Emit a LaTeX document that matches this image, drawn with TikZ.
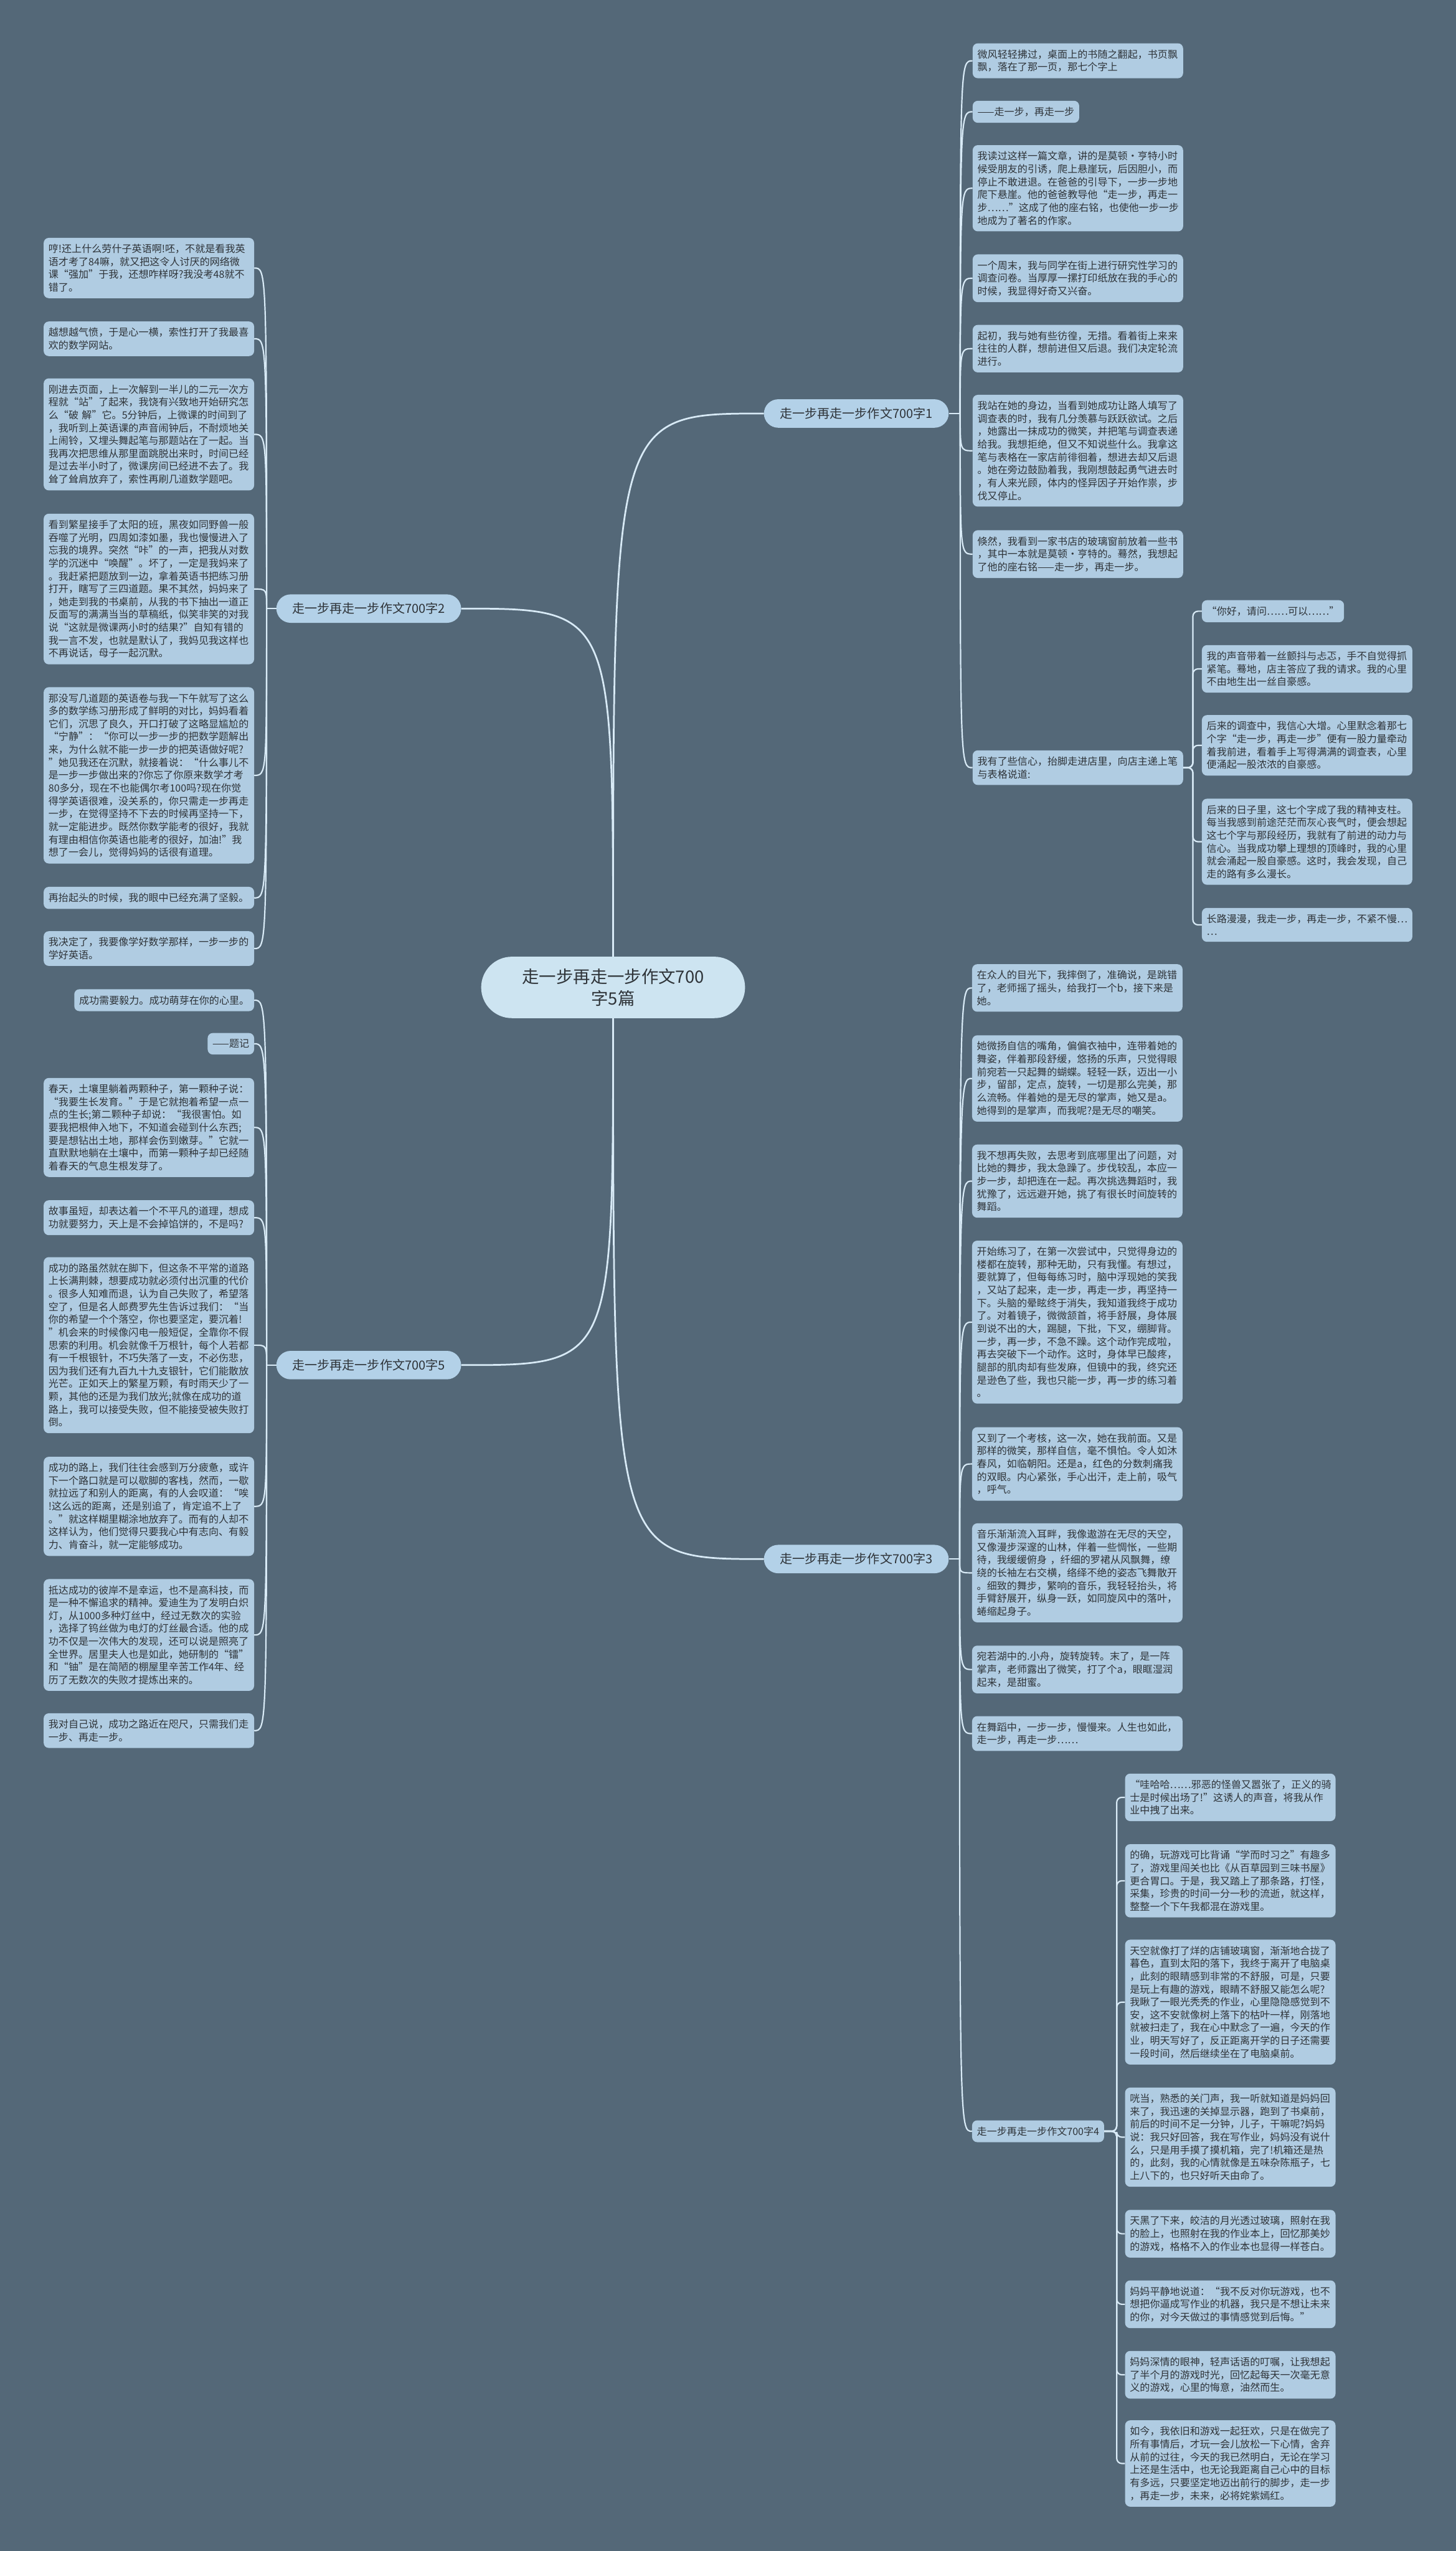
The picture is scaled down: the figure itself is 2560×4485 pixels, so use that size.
\documentclass[tikz,border=0pt]{standalone}
\usepackage{fontspec}
\newfontfamily\cjk{Noto Sans CJK SC}
\usepackage{tikz}
\definecolor{mapbg}{HTML}{546878}
\definecolor{leafblue}{HTML}{B0CCE2}
\definecolor{hubblue}{HTML}{B3D1E8}
\definecolor{rootblue}{HTML}{CDE4F1}
\definecolor{linkwhite}{HTML}{D8EAF6}
\definecolor{inkgrey}{HTML}{2E3338}
\newcommand\leaffont{\cjk\fontsize{17.6}{22.6}\selectfont}
\newcommand\hubfont{\cjk\fontsize{22}{26}\selectfont}
\newcommand\rootfont{\cjk\fontsize{30}{39}\selectfont}

\begin{document}
\begin{tikzpicture}[x=1pt, y=-1pt,
  leaf/.style={fill=leafblue, rounded corners=9pt, inner xsep=8.5pt, inner ysep=11pt,
    text=inkgrey, font=\leaffont, align=left},
  para/.style={leaf, text width=353pt},
  hub/.style={fill=hubblue, rounded corners=25pt, minimum height=50pt, inner xsep=28pt,
    text=inkgrey, font=\hubfont},
  root/.style={fill=rootblue, rounded corners=54pt, minimum width=464pt, minimum height=108pt,
    text=inkgrey, align=center, font=\rootfont},
  trunk/.style={draw=linkwhite, line width=3pt},
  twig/.style={draw=linkwhite, line width=2.4pt},
  elbow/.style={twig, rounded corners=9pt}]
\useasboundingbox (0,0) rectangle (2560,4485);
\fill[mapbg] (0,0) rectangle (2560,4485);

\node[root] (root) at (1078,1736) {走一步再走一步作文700\\字5篇};
\node[hub, anchor=west] (b1) at (1343,727) {走一步再走一步作文700字1};
\node[hub, anchor=east] (b2) at (811,1070) {走一步再走一步作文700字2};
\node[hub, anchor=west] (b3) at (1343,2741) {走一步再走一步作文700字3};
\node[hub, anchor=east] (b5) at (811,2400) {走一步再走一步作文700字5};

% essay 1
\node[para, anchor=north west] (l1a) at (1710,76) {微风轻轻拂过，桌面上的书随之翻起，书页飘\\飘，落在了那一页，那七个字上};
\node[leaf, anchor=north west] (l1b) at (1710,177) {——走一步，再走一步};
\node[para, anchor=north west] (l1c) at (1710,255) {我读过这样一篇文章，讲的是莫顿·亨特小时\\候受朋友的引诱，爬上悬崖玩，后因胆小，而\\停止不敢进退。在爸爸的引导下，一步一步地\\爬下悬崖。他的爸爸教导他“走一步，再走一\\步……”这成了他的座右铭，也使他一步一步\\地成为了著名的作家。};
\node[para, anchor=north west] (l1d) at (1710,447) {一个周末，我与同学在街上进行研究性学习的\\调查问卷。当厚厚一摞打印纸放在我的手心的\\时候，我显得好奇又兴奋。};
\node[para, anchor=north west] (l1e) at (1710,571) {起初，我与她有些彷徨，无措。看着街上来来\\往往的人群，想前进但又后退。我们决定轮流\\进行。};
\node[para, anchor=north west] (l1f) at (1710,694) {我站在她的身边，当看到她成功让路人填写了\\调查表的时，我有几分羡慕与跃跃欲试。之后\\，她露出一抹成功的微笑，并把笔与调查表递\\给我。我想拒绝，但又不知说些什么。我拿这\\笔与表格在一家店前徘徊着，想进去却又后退\\。她在旁边鼓励着我，我刚想鼓起勇气进去时\\，有人来光顾，体内的怪异因子开始作祟，步\\伐又停止。};
\node[para, anchor=north west] (l1g) at (1710,932) {倏然，我看到一家书店的玻璃窗前放着一些书\\，其中一本就是莫顿·亨特的。蓦然，我想起\\了他的座右铭——走一步，再走一步。};
\node[para, anchor=north west] (l1h) at (1710,1319) {我有了些信心，抬脚走进店里，向店主递上笔\\与表格说道:};
\node[leaf, anchor=north west] (s1) at (2113,1055) {“你好，请问……可以……”};
\node[para, anchor=north west] (s2) at (2113,1134) {我的声音带着一丝颤抖与忐忑，手不自觉得抓\\紧笔。蓦地，店主答应了我的请求。我的心里\\不由地生出一丝自豪感。};
\node[para, anchor=north west] (s3) at (2113,1257) {后来的调查中，我信心大增。心里默念着那七\\个字“走一步，再走一步”便有一股力量牵动\\着我前进，看着手上写得满满的调查表，心里\\便涌起一股浓浓的自豪感。};
\node[para, anchor=north west] (s4) at (2113,1404) {后来的日子里，这七个字成了我的精神支柱。\\每当我感到前途茫茫而灰心丧气时，便会想起\\这七个字与那段经历，我就有了前进的动力与\\信心。当我成功攀上理想的顶峰时，我的心里\\就会涌起一股自豪感。这时，我会发现，自己\\走的路有多么漫长。};
\node[para, anchor=north west] (s5) at (2113,1596) {长路漫漫，我走一步，再走一步，不紧不慢…\\…};

% essay 2
\node[para, anchor=north east] (l2a) at (447,418) {哼!还上什么劳什子英语啊!呸，不就是看我英\\语才考了84嘛，就又把这令人讨厌的网络微\\课“强加”于我，还想咋样呀?我没考48就不\\错了。};
\node[para, anchor=north east] (l2b) at (447,565) {越想越气愤，于是心一横，索性打开了我最喜\\欢的数学网站。};
\node[para, anchor=north east] (l2c) at (447,665) {刚进去页面，上一次解到一半儿的二元一次方\\程就“站”了起来，我饶有兴致地开始研究怎\\么“破 解”它。5分钟后，上微课的时间到了\\，我听到上英语课的声音闹钟后，不耐烦地关\\上闹铃，又埋头舞起笔与那题站在了一起。当\\我再次把思维从那里面跳脱出来时，时间已经\\是过去半小时了，微课房间已经进不去了。我\\耸了耸肩放弃了，索性再刷几道数学题吧。};
\node[para, anchor=north east] (l2d) at (447,903) {看到繁星接手了太阳的班，黑夜如同野兽一般\\吞噬了光明，四周如漆如墨，我也慢慢进入了\\忘我的境界。突然“咔”的一声，把我从对数\\学的沉迷中“唤醒”。坏了，一定是我妈来了\\。我赶紧把题放到一边，拿着英语书把练习册\\打开，瞎写了三四道题。果不其然，妈妈来了\\，她走到我的书桌前，从我的书下抽出一道正\\反面写的满满当当的草稿纸，似笑非笑的对我\\说“这就是微课两小时的结果?”自知有错的\\我一言不发，也就是默认了，我妈见我这样也\\不再说话，母子一起沉默。};
\node[para, anchor=north east] (l2e) at (447,1208) {那没写几道题的英语卷与我一下午就写了这么\\多的数学练习册形成了鲜明的对比，妈妈看着\\它们，沉思了良久，开口打破了这略显尴尬的\\“宁静”：“你可以一步一步的把数学题解出\\来，为什么就不能一步一步的把英语做好呢?\\”她见我还在沉默，就接着说：“什么事儿不\\是一步一步做出来的?你忘了你原来数学才考\\80多分，现在不也能偶尔考100吗?现在你觉\\得学英语很难，没关系的，你只需走一步再走\\一步，在觉得坚持不下去的时候再坚持一下，\\就一定能进步。既然你数学能考的很好，我就\\有理由相信你英语也能考的很好，加油!”我\\想了一会儿，觉得妈妈的话很有道理。};
\node[para, anchor=north east] (l2f) at (447,1559) {再抬起头的时候，我的眼中已经充满了坚毅。};
\node[para, anchor=north east] (l2g) at (447,1637) {我决定了，我要像学好数学那样，一步一步的\\学好英语。};

% essay 5
\node[leaf, anchor=north east] (l5a) at (447,1739) {成功需要毅力。成功萌芽在你的心里。};
\node[leaf, anchor=north east] (l5b) at (447,1816) {——题记};
\node[para, anchor=north east] (l5c) at (447,1895) {春天，土壤里躺着两颗种子，第一颗种子说：\\“我要生长发育。”于是它就抱着希望一点一\\点的生长;第二颗种子却说：“我很害怕。如\\要我把根伸入地下，不知道会碰到什么东西;\\要是想钻出土地，那样会伤到嫩芽。”它就一\\直默默地躺在土壤中，而第一颗种子却已经随\\着春天的气息生根发芽了。};
\node[para, anchor=north east] (l5d) at (447,2110) {故事虽短，却表达着一个不平凡的道理，想成\\功就要努力，天上是不会掉馅饼的，不是吗?};
\node[para, anchor=north east] (l5e) at (447,2210) {成功的路虽然就在脚下，但这条不平常的道路\\上长满荆棘，想要成功就必须付出沉重的代价\\。很多人知难而退，认为自己失败了，希望落\\空了，但是名人郎费罗先生告诉过我们：“当\\你的希望一个个落空，你也要坚定，要沉着!\\”机会来的时候像闪电一般短促，全靠你不假\\思索的利用。机会就像千万根针，每个人若都\\有一千根银针，不巧失落了一支，不必伤悲，\\因为我们还有九百九十九支银针，它们能散放\\光芒。正如天上的繁星万颗，有时雨天少了一\\颗，其他的还是为我们放光;就像在成功的道\\路上，我可以接受失败，但不能接受被失败打\\倒。};
\node[para, anchor=north east] (l5f) at (447,2561) {成功的路上，我们往往会感到万分疲惫，或许\\下一个路口就是可以歇脚的客栈，然而，一歇\\就拉远了和别人的距离，有的人会叹道：“唉\\!这么远的距离，还是别追了，肯定追不上了\\。”就这样糊里糊涂地放弃了。而有的人却不\\这样认为，他们觉得只要我心中有志向、有毅\\力、肯奋斗，就一定能够成功。};
\node[para, anchor=north east] (l5g) at (447,2776) {抵达成功的彼岸不是幸运，也不是高科技，而\\是一种不懈追求的精神。爱迪生为了发明白炽\\灯，从1000多种灯丝中，经过无数次的实验\\，选择了钨丝做为电灯的灯丝最合适。他的成\\功不仅是一次伟大的发现，还可以说是照亮了\\全世界。居里夫人也是如此，她研制的“镭”\\和“铀”是在简陋的棚屋里辛苦工作4年、经\\历了无数次的失败才提炼出来的。};
\node[para, anchor=north east] (l5h) at (447,3012) {我对自己说，成功之路近在咫尺，只需我们走\\一步、再走一步。};

% essay 3
\node[para, anchor=north west] (l3a) at (1709,1695) {在众人的目光下，我摔倒了，准确说，是跳错\\了，老师摇了摇头，给我打一个b，接下来是\\她。};
\node[para, anchor=north west] (l3b) at (1709,1820) {她微扬自信的嘴角，偏偏衣袖中，连带着她的\\舞姿，伴着那段舒缓，悠扬的乐声，只觉得眼\\前宛若一只起舞的蝴蝶。轻轻一跃，迈出一小\\步，留部，定点，旋转，一切是那么完美，那\\么流畅。伴着她的是无尽的掌声，她又是a。\\她得到的是掌声，而我呢?是无尽的嘲笑。};
\node[para, anchor=north west] (l3c) at (1709,2012) {我不想再失败，去思考到底哪里出了问题，对\\比她的舞步，我太急躁了。步伐较乱，本应一\\步一步，却把连在一起。再次挑选舞蹈时，我\\犹豫了，远远避开她，挑了有很长时间旋转的\\舞蹈。};
\node[para, anchor=north west] (l3d) at (1709,2181) {开始练习了，在第一次尝试中，只觉得身边的\\楼都在旋转，那种无助，只有我懂。有想过，\\要就算了，但每每练习时，脑中浮现她的笑我\\，又站了起来，走一步，再走一步，再坚持一\\下。头脑的晕眩终于消失，我知道我终于成功\\了。对着镜子，微微颔首，将手舒展，身体展\\到说不出的大，踢腿，下批，下叉，绷脚背。\\一步，再一步，不急不躁。这个动作完成啦，\\再去突破下一个动作。这时，身体早已酸疼，\\腿部的肌肉却有些发麻，但镜中的我，终究还\\是逊色了些，我也只能一步，再一步的练习着\\。};
\node[para, anchor=north west] (l3e) at (1709,2509) {又到了一个考核，这一次，她在我前面。又是\\那样的微笑，那样自信，毫不惧怕。令人如沐\\春风，如临朝阳。还是a，红色的分数刺痛我\\的双眼。内心紧张，手心出汗，走上前，吸气\\，呼气。};
\node[para, anchor=north west] (l3f) at (1709,2678) {音乐渐渐流入耳畔，我像遨游在无尽的天空，\\又像漫步深邃的山林，伴着一些惆怅，一些期\\待，我缓缓俯身 ，纤细的罗裙从风飘舞，缭\\绕的长袖左右交横，络绎不绝的姿态飞舞散开\\。细致的舞步，繁响的音乐，我轻轻抬头，将\\手臂舒展开，纵身一跃，如同旋风中的落叶，\\蜷缩起身子。};
\node[para, anchor=north west] (l3g) at (1709,2893) {宛若湖中的.小舟，旋转旋转。末了，是一阵\\掌声，老师露出了微笑，打了个a，眼眶湿润\\起来，是甜蜜。};
\node[para, anchor=north west] (l3h) at (1709,3017) {在舞蹈中，一步一步，慢慢来。人生也如此，\\走一步，再走一步……};
\node[leaf, anchor=west] (b4) at (1709,3747) {走一步再走一步作文700字4};

% essay 4
\node[para, anchor=north west] (l4a) at (1978,3118) {“哇哈哈……邪恶的怪兽又嚣张了，正义的骑\\士是时候出场了!”这诱人的声音，将我从作\\业中拽了出来。};
\node[para, anchor=north west] (l4b) at (1978,3242) {的确，玩游戏可比背诵“学而时习之”有趣多\\了，游戏里闯关也比《从百草园到三味书屋》\\更合胃口。于是，我又踏上了那条路，打怪，\\采集，珍贵的时间一分一秒的流逝，就这样，\\整整一个下午我都混在游戏里。};
\node[para, anchor=north west] (l4c) at (1978,3410) {天空就像打了烊的店铺玻璃窗，渐渐地合拢了\\暮色，直到太阳的落下，我终于离开了电脑桌\\，此刻的眼睛感到非常的不舒服，可是，只要\\是玩上有趣的游戏，眼睛不舒服又能怎么呢?\\我瞅了一眼光秃秃的作业，心里隐隐感觉到不\\安，这不安就像树上落下的枯叶一样，刚落地\\就被扫走了，我在心中默念了一遍，今天的作\\业，明天写好了，反正距离开学的日子还需要\\一段时间，然后继续坐在了电脑桌前。};
\node[para, anchor=north west] (l4d) at (1978,3670) {咣当，熟悉的关门声，我一听就知道是妈妈回\\来了，我迅速的关掉显示器，跑到了书桌前，\\前后的时间不足一分钟，儿子，干嘛呢?妈妈\\说：我只好回答，我在写作业，妈妈没有说什\\么，只是用手摸了摸机箱，完了!机箱还是热\\的，此刻，我的心情就像是五味杂陈瓶子，七\\上八下的，也只好听天由命了。};
\node[para, anchor=north west] (l4e) at (1978,3885) {天黑了下来，皎洁的月光透过玻璃，照射在我\\的脸上，也照射在我的作业本上，回忆那美妙\\的游戏，格格不入的作业本也显得一样苍白。};
\node[para, anchor=north west] (l4f) at (1978,4009) {妈妈平静地说道：“我不反对你玩游戏，也不\\想把你逼成写作业的机器，我只是不想让未来\\的你，对今天做过的事情感觉到后悔。”};
\node[para, anchor=north west] (l4g) at (1978,4133) {妈妈深情的眼神，轻声话语的叮嘱，让我想起\\了半个月的游戏时光，回忆起每天一次毫无意\\义的游戏，心里的悔意，油然而生。};
\node[para, anchor=north west] (l4h) at (1978,4255) {如今，我依旧和游戏一起狂欢，只是在做完了\\所有事情后，才玩一会儿放松一下心情，舍弃\\从前的过往，今天的我已然明白，无论在学习\\上还是生活中，也无论我距离自己心中的目标\\有多远，只要坚定地迈出前行的脚步，走一步\\，再走一步，未来，必将姹紫嫣红。};

% connectors
\draw[trunk] (root.north) .. controls (root.north |- b1.west) .. (b1.west);
\draw[trunk] (root.north) .. controls (root.north |- b2.east) .. (b2.east);
\draw[trunk] (root.south) .. controls (root.south |- b3.west) .. (b3.west);
\draw[trunk] (root.south) .. controls (root.south |- b5.east) .. (b5.east);

\coordinate (b1bus) at ([xshift=20pt]b1.east);
\coordinate (b3bus) at ([xshift=19pt]b3.east);
\coordinate (b2bus) at ([xshift=-17pt]b2.west);
\coordinate (b5bus) at ([xshift=-17pt]b5.west);
\coordinate (l1hbus) at ([xshift=17pt]l1h.east);
\coordinate (b4bus) at ([xshift=22pt]b4.east);
\draw[twig] (b1.east) -- (b1bus);
\draw[twig] (b3.east) -- (b3bus);
\draw[twig] (b2.west) -- (b2bus);
\draw[twig] (b5.west) -- (b5bus);
\foreach \n in {l1a,l1b,l1c,l1d,l1e,l1f,l1g,l1h}
  \draw[twig] (b1bus) .. controls (b1bus |- \n.west) .. (\n.west);
\foreach \n in {l3a,l3b,l3c,l3d,l3e,l3f,l3g,l3h,b4}
  \draw[twig] (b3bus) .. controls (b3bus |- \n.west) .. (\n.west);
\foreach \n in {l2a,l2b,l2c,l2d,l2e,l2f,l2g}
  \draw[twig] (b2bus) .. controls (b2bus |- \n.east) .. (\n.east);
\foreach \n in {l5a,l5b,l5c,l5d,l5e,l5f,l5g,l5h}
  \draw[twig] (b5bus) .. controls (b5bus |- \n.east) .. (\n.east);
\foreach \n in {s1,s2,s3,s4,s5}
  \draw[elbow] (l1h.east) -- (l1hbus) |- (\n.west);
\foreach \n in {l4a,l4b,l4c,l4d,l4e,l4f,l4g,l4h}
  \draw[elbow] (b4.east) -- (b4bus) |- (\n.west);
\end{tikzpicture}
\end{document}
